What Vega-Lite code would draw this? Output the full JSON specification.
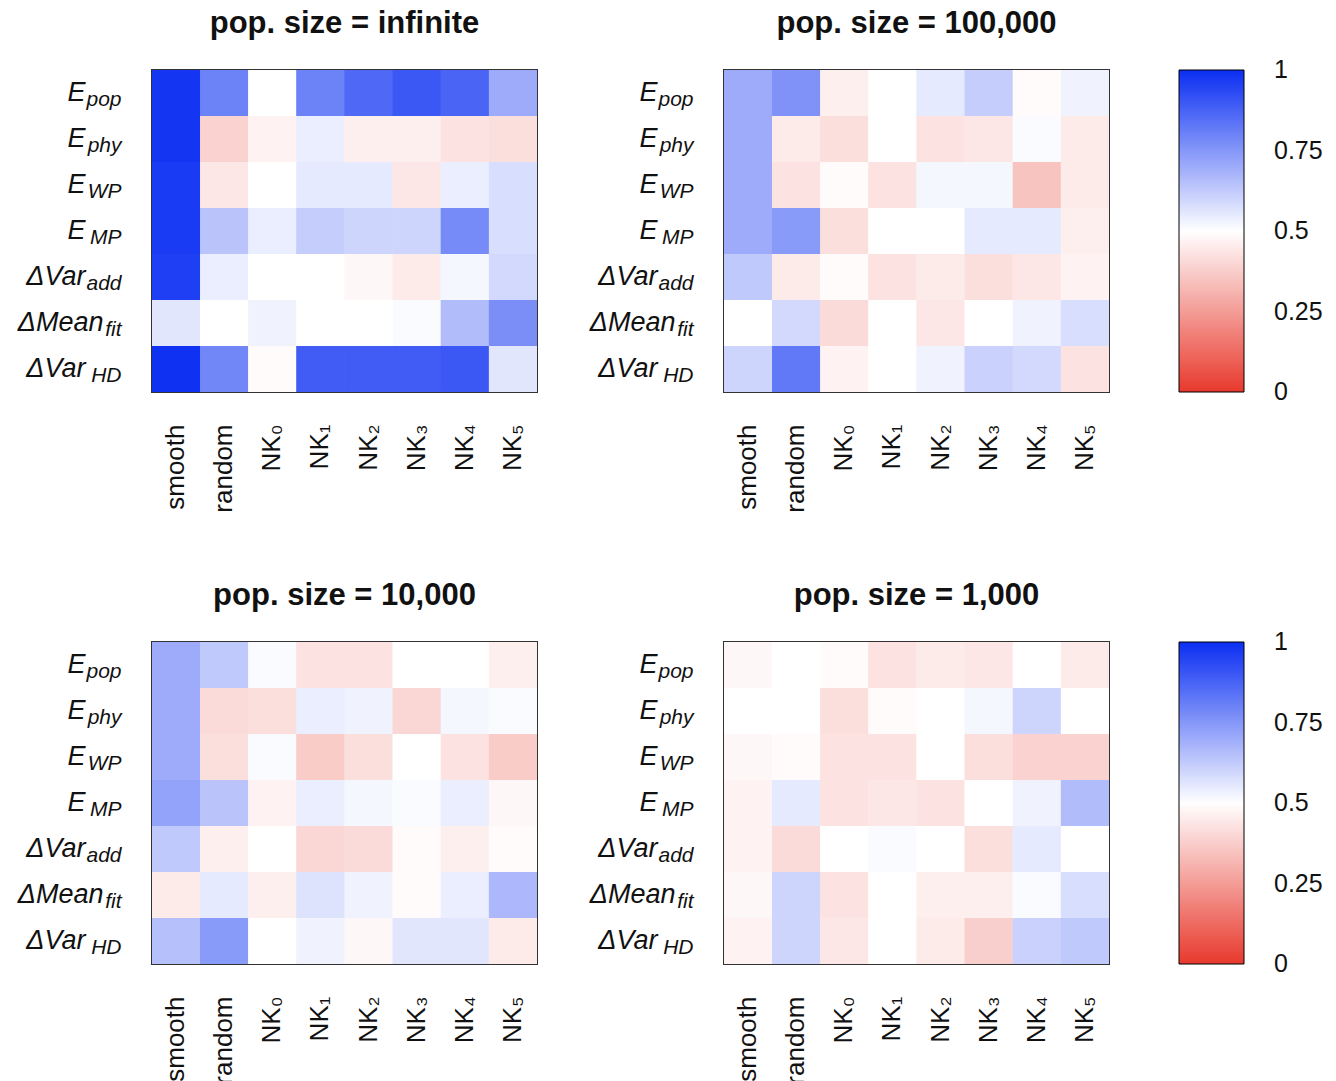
{
  "$schema": "https://vega.github.io/schema/vega-lite/v6.json",
  "padding": {"top": 7, "left": 16, "right": 4, "bottom": 4},
  "background": "white",
  "config": {
    "font": "Liberation Sans",
    "view": {"stroke": "#333333", "strokeWidth": 2},
    "axis": {"domain": false, "ticks": false, "grid": false, "title": null, "labelColor": "#111", "labelFont": "Liberation Sans"},
    "title": {"fontSize": 31, "fontWeight": "bold", "offset": 30, "color": "#111", "font": "Liberation Sans"},
    "legend": {"labelFont": "Liberation Sans", "labelColor": "#111"}
  },
  "datasets": {
    "cells": [
      {"p":"infinite","r":"E|pop","c":"smooth","v":0.98},{"p":"infinite","r":"E|pop","c":"random","v":0.8},{"p":"infinite","r":"E|pop","c":"NK₀","v":0.5},{"p":"infinite","r":"E|pop","c":"NK₁","v":0.8},{"p":"infinite","r":"E|pop","c":"NK₂","v":0.86},{"p":"infinite","r":"E|pop","c":"NK₃","v":0.9},{"p":"infinite","r":"E|pop","c":"NK₄","v":0.87},{"p":"infinite","r":"E|pop","c":"NK₅","v":0.7},
      {"p":"infinite","r":"E|phy","c":"smooth","v":0.98},{"p":"infinite","r":"E|phy","c":"random","v":0.39},{"p":"infinite","r":"E|phy","c":"NK₀","v":0.47},{"p":"infinite","r":"E|phy","c":"NK₁","v":0.54},{"p":"infinite","r":"E|phy","c":"NK₂","v":0.46},{"p":"infinite","r":"E|phy","c":"NK₃","v":0.46},{"p":"infinite","r":"E|phy","c":"NK₄","v":0.43},{"p":"infinite","r":"E|phy","c":"NK₅","v":0.42},
      {"p":"infinite","r":"E|WP","c":"smooth","v":0.97},{"p":"infinite","r":"E|WP","c":"random","v":0.44},{"p":"infinite","r":"E|WP","c":"NK₀","v":0.5},{"p":"infinite","r":"E|WP","c":"NK₁","v":0.55},{"p":"infinite","r":"E|WP","c":"NK₂","v":0.55},{"p":"infinite","r":"E|WP","c":"NK₃","v":0.44},{"p":"infinite","r":"E|WP","c":"NK₄","v":0.54},{"p":"infinite","r":"E|WP","c":"NK₅","v":0.58},
      {"p":"infinite","r":"E|MP","c":"smooth","v":0.97},{"p":"infinite","r":"E|MP","c":"random","v":0.64},{"p":"infinite","r":"E|MP","c":"NK₀","v":0.54},{"p":"infinite","r":"E|MP","c":"NK₁","v":0.62},{"p":"infinite","r":"E|MP","c":"NK₂","v":0.6},{"p":"infinite","r":"E|MP","c":"NK₃","v":0.6},{"p":"infinite","r":"E|MP","c":"NK₄","v":0.78},{"p":"infinite","r":"E|MP","c":"NK₅","v":0.58},
      {"p":"infinite","r":"ΔVar|add","c":"smooth","v":0.96},{"p":"infinite","r":"ΔVar|add","c":"random","v":0.54},{"p":"infinite","r":"ΔVar|add","c":"NK₀","v":0.5},{"p":"infinite","r":"ΔVar|add","c":"NK₁","v":0.5},{"p":"infinite","r":"ΔVar|add","c":"NK₂","v":0.48},{"p":"infinite","r":"ΔVar|add","c":"NK₃","v":0.45},{"p":"infinite","r":"ΔVar|add","c":"NK₄","v":0.52},{"p":"infinite","r":"ΔVar|add","c":"NK₅","v":0.59},
      {"p":"infinite","r":"ΔMean|fit","c":"smooth","v":0.56},{"p":"infinite","r":"ΔMean|fit","c":"random","v":0.5},{"p":"infinite","r":"ΔMean|fit","c":"NK₀","v":0.53},{"p":"infinite","r":"ΔMean|fit","c":"NK₁","v":0.5},{"p":"infinite","r":"ΔMean|fit","c":"NK₂","v":0.5},{"p":"infinite","r":"ΔMean|fit","c":"NK₃","v":0.51},{"p":"infinite","r":"ΔMean|fit","c":"NK₄","v":0.66},{"p":"infinite","r":"ΔMean|fit","c":"NK₅","v":0.77},
      {"p":"infinite","r":"ΔVar|HD","c":"smooth","v":0.99},{"p":"infinite","r":"ΔVar|HD","c":"random","v":0.79},{"p":"infinite","r":"ΔVar|HD","c":"NK₀","v":0.49},{"p":"infinite","r":"ΔVar|HD","c":"NK₁","v":0.89},{"p":"infinite","r":"ΔVar|HD","c":"NK₂","v":0.89},{"p":"infinite","r":"ΔVar|HD","c":"NK₃","v":0.89},{"p":"infinite","r":"ΔVar|HD","c":"NK₄","v":0.9},{"p":"infinite","r":"ΔVar|HD","c":"NK₅","v":0.56},

      {"p":"100,000","r":"E|pop","c":"smooth","v":0.7},{"p":"100,000","r":"E|pop","c":"random","v":0.76},{"p":"100,000","r":"E|pop","c":"NK₀","v":0.46},{"p":"100,000","r":"E|pop","c":"NK₁","v":0.5},{"p":"100,000","r":"E|pop","c":"NK₂","v":0.55},{"p":"100,000","r":"E|pop","c":"NK₃","v":0.62},{"p":"100,000","r":"E|pop","c":"NK₄","v":0.49},{"p":"100,000","r":"E|pop","c":"NK₅","v":0.53},
      {"p":"100,000","r":"E|phy","c":"smooth","v":0.7},{"p":"100,000","r":"E|phy","c":"random","v":0.45},{"p":"100,000","r":"E|phy","c":"NK₀","v":0.42},{"p":"100,000","r":"E|phy","c":"NK₁","v":0.5},{"p":"100,000","r":"E|phy","c":"NK₂","v":0.43},{"p":"100,000","r":"E|phy","c":"NK₃","v":0.44},{"p":"100,000","r":"E|phy","c":"NK₄","v":0.51},{"p":"100,000","r":"E|phy","c":"NK₅","v":0.45},
      {"p":"100,000","r":"E|WP","c":"smooth","v":0.7},{"p":"100,000","r":"E|WP","c":"random","v":0.43},{"p":"100,000","r":"E|WP","c":"NK₀","v":0.49},{"p":"100,000","r":"E|WP","c":"NK₁","v":0.43},{"p":"100,000","r":"E|WP","c":"NK₂","v":0.52},{"p":"100,000","r":"E|WP","c":"NK₃","v":0.52},{"p":"100,000","r":"E|WP","c":"NK₄","v":0.35},{"p":"100,000","r":"E|WP","c":"NK₅","v":0.45},
      {"p":"100,000","r":"E|MP","c":"smooth","v":0.7},{"p":"100,000","r":"E|MP","c":"random","v":0.74},{"p":"100,000","r":"E|MP","c":"NK₀","v":0.42},{"p":"100,000","r":"E|MP","c":"NK₁","v":0.5},{"p":"100,000","r":"E|MP","c":"NK₂","v":0.5},{"p":"100,000","r":"E|MP","c":"NK₃","v":0.55},{"p":"100,000","r":"E|MP","c":"NK₄","v":0.55},{"p":"100,000","r":"E|MP","c":"NK₅","v":0.46},
      {"p":"100,000","r":"ΔVar|add","c":"smooth","v":0.63},{"p":"100,000","r":"ΔVar|add","c":"random","v":0.45},{"p":"100,000","r":"ΔVar|add","c":"NK₀","v":0.49},{"p":"100,000","r":"ΔVar|add","c":"NK₁","v":0.43},{"p":"100,000","r":"ΔVar|add","c":"NK₂","v":0.45},{"p":"100,000","r":"ΔVar|add","c":"NK₃","v":0.42},{"p":"100,000","r":"ΔVar|add","c":"NK₄","v":0.44},{"p":"100,000","r":"ΔVar|add","c":"NK₅","v":0.47},
      {"p":"100,000","r":"ΔMean|fit","c":"smooth","v":0.5},{"p":"100,000","r":"ΔMean|fit","c":"random","v":0.59},{"p":"100,000","r":"ΔMean|fit","c":"NK₀","v":0.41},{"p":"100,000","r":"ΔMean|fit","c":"NK₁","v":0.5},{"p":"100,000","r":"ΔMean|fit","c":"NK₂","v":0.44},{"p":"100,000","r":"ΔMean|fit","c":"NK₃","v":0.5},{"p":"100,000","r":"ΔMean|fit","c":"NK₄","v":0.53},{"p":"100,000","r":"ΔMean|fit","c":"NK₅","v":0.58},
      {"p":"100,000","r":"ΔVar|HD","c":"smooth","v":0.6},{"p":"100,000","r":"ΔVar|HD","c":"random","v":0.82},{"p":"100,000","r":"ΔVar|HD","c":"NK₀","v":0.47},{"p":"100,000","r":"ΔVar|HD","c":"NK₁","v":0.5},{"p":"100,000","r":"ΔVar|HD","c":"NK₂","v":0.53},{"p":"100,000","r":"ΔVar|HD","c":"NK₃","v":0.61},{"p":"100,000","r":"ΔVar|HD","c":"NK₄","v":0.59},{"p":"100,000","r":"ΔVar|HD","c":"NK₅","v":0.43},

      {"p":"10,000","r":"E|pop","c":"smooth","v":0.7},{"p":"10,000","r":"E|pop","c":"random","v":0.63},{"p":"10,000","r":"E|pop","c":"NK₀","v":0.51},{"p":"10,000","r":"E|pop","c":"NK₁","v":0.43},{"p":"10,000","r":"E|pop","c":"NK₂","v":0.43},{"p":"10,000","r":"E|pop","c":"NK₃","v":0.5},{"p":"10,000","r":"E|pop","c":"NK₄","v":0.5},{"p":"10,000","r":"E|pop","c":"NK₅","v":0.46},
      {"p":"10,000","r":"E|phy","c":"smooth","v":0.7},{"p":"10,000","r":"E|phy","c":"random","v":0.41},{"p":"10,000","r":"E|phy","c":"NK₀","v":0.42},{"p":"10,000","r":"E|phy","c":"NK₁","v":0.54},{"p":"10,000","r":"E|phy","c":"NK₂","v":0.53},{"p":"10,000","r":"E|phy","c":"NK₃","v":0.4},{"p":"10,000","r":"E|phy","c":"NK₄","v":0.52},{"p":"10,000","r":"E|phy","c":"NK₅","v":0.51},
      {"p":"10,000","r":"E|WP","c":"smooth","v":0.7},{"p":"10,000","r":"E|WP","c":"random","v":0.42},{"p":"10,000","r":"E|WP","c":"NK₀","v":0.51},{"p":"10,000","r":"E|WP","c":"NK₁","v":0.37},{"p":"10,000","r":"E|WP","c":"NK₂","v":0.42},{"p":"10,000","r":"E|WP","c":"NK₃","v":0.5},{"p":"10,000","r":"E|WP","c":"NK₄","v":0.43},{"p":"10,000","r":"E|WP","c":"NK₅","v":0.37},
      {"p":"10,000","r":"E|MP","c":"smooth","v":0.72},{"p":"10,000","r":"E|MP","c":"random","v":0.64},{"p":"10,000","r":"E|MP","c":"NK₀","v":0.47},{"p":"10,000","r":"E|MP","c":"NK₁","v":0.54},{"p":"10,000","r":"E|MP","c":"NK₂","v":0.52},{"p":"10,000","r":"E|MP","c":"NK₃","v":0.51},{"p":"10,000","r":"E|MP","c":"NK₄","v":0.54},{"p":"10,000","r":"E|MP","c":"NK₅","v":0.48},
      {"p":"10,000","r":"ΔVar|add","c":"smooth","v":0.63},{"p":"10,000","r":"ΔVar|add","c":"random","v":0.46},{"p":"10,000","r":"ΔVar|add","c":"NK₀","v":0.5},{"p":"10,000","r":"ΔVar|add","c":"NK₁","v":0.4},{"p":"10,000","r":"ΔVar|add","c":"NK₂","v":0.41},{"p":"10,000","r":"ΔVar|add","c":"NK₃","v":0.49},{"p":"10,000","r":"ΔVar|add","c":"NK₄","v":0.46},{"p":"10,000","r":"ΔVar|add","c":"NK₅","v":0.49},
      {"p":"10,000","r":"ΔMean|fit","c":"smooth","v":0.45},{"p":"10,000","r":"ΔMean|fit","c":"random","v":0.55},{"p":"10,000","r":"ΔMean|fit","c":"NK₀","v":0.46},{"p":"10,000","r":"ΔMean|fit","c":"NK₁","v":0.57},{"p":"10,000","r":"ΔMean|fit","c":"NK₂","v":0.53},{"p":"10,000","r":"ΔMean|fit","c":"NK₃","v":0.49},{"p":"10,000","r":"ΔMean|fit","c":"NK₄","v":0.54},{"p":"10,000","r":"ΔMean|fit","c":"NK₅","v":0.67},
      {"p":"10,000","r":"ΔVar|HD","c":"smooth","v":0.65},{"p":"10,000","r":"ΔVar|HD","c":"random","v":0.74},{"p":"10,000","r":"ΔVar|HD","c":"NK₀","v":0.5},{"p":"10,000","r":"ΔVar|HD","c":"NK₁","v":0.53},{"p":"10,000","r":"ΔVar|HD","c":"NK₂","v":0.48},{"p":"10,000","r":"ΔVar|HD","c":"NK₃","v":0.56},{"p":"10,000","r":"ΔVar|HD","c":"NK₄","v":0.56},{"p":"10,000","r":"ΔVar|HD","c":"NK₅","v":0.45},

      {"p":"1,000","r":"E|pop","c":"smooth","v":0.48},{"p":"1,000","r":"E|pop","c":"random","v":0.5},{"p":"1,000","r":"E|pop","c":"NK₀","v":0.49},{"p":"1,000","r":"E|pop","c":"NK₁","v":0.43},{"p":"1,000","r":"E|pop","c":"NK₂","v":0.45},{"p":"1,000","r":"E|pop","c":"NK₃","v":0.44},{"p":"1,000","r":"E|pop","c":"NK₄","v":0.5},{"p":"1,000","r":"E|pop","c":"NK₅","v":0.45},
      {"p":"1,000","r":"E|phy","c":"smooth","v":0.5},{"p":"1,000","r":"E|phy","c":"random","v":0.5},{"p":"1,000","r":"E|phy","c":"NK₀","v":0.42},{"p":"1,000","r":"E|phy","c":"NK₁","v":0.49},{"p":"1,000","r":"E|phy","c":"NK₂","v":0.5},{"p":"1,000","r":"E|phy","c":"NK₃","v":0.52},{"p":"1,000","r":"E|phy","c":"NK₄","v":0.6},{"p":"1,000","r":"E|phy","c":"NK₅","v":0.5},
      {"p":"1,000","r":"E|WP","c":"smooth","v":0.48},{"p":"1,000","r":"E|WP","c":"random","v":0.49},{"p":"1,000","r":"E|WP","c":"NK₀","v":0.43},{"p":"1,000","r":"E|WP","c":"NK₁","v":0.43},{"p":"1,000","r":"E|WP","c":"NK₂","v":0.5},{"p":"1,000","r":"E|WP","c":"NK₃","v":0.42},{"p":"1,000","r":"E|WP","c":"NK₄","v":0.39},{"p":"1,000","r":"E|WP","c":"NK₅","v":0.39},
      {"p":"1,000","r":"E|MP","c":"smooth","v":0.47},{"p":"1,000","r":"E|MP","c":"random","v":0.55},{"p":"1,000","r":"E|MP","c":"NK₀","v":0.43},{"p":"1,000","r":"E|MP","c":"NK₁","v":0.44},{"p":"1,000","r":"E|MP","c":"NK₂","v":0.43},{"p":"1,000","r":"E|MP","c":"NK₃","v":0.5},{"p":"1,000","r":"E|MP","c":"NK₄","v":0.53},{"p":"1,000","r":"E|MP","c":"NK₅","v":0.66},
      {"p":"1,000","r":"ΔVar|add","c":"smooth","v":0.47},{"p":"1,000","r":"ΔVar|add","c":"random","v":0.41},{"p":"1,000","r":"ΔVar|add","c":"NK₀","v":0.5},{"p":"1,000","r":"ΔVar|add","c":"NK₁","v":0.51},{"p":"1,000","r":"ΔVar|add","c":"NK₂","v":0.5},{"p":"1,000","r":"ΔVar|add","c":"NK₃","v":0.42},{"p":"1,000","r":"ΔVar|add","c":"NK₄","v":0.55},{"p":"1,000","r":"ΔVar|add","c":"NK₅","v":0.5},
      {"p":"1,000","r":"ΔMean|fit","c":"smooth","v":0.48},{"p":"1,000","r":"ΔMean|fit","c":"random","v":0.6},{"p":"1,000","r":"ΔMean|fit","c":"NK₀","v":0.43},{"p":"1,000","r":"ΔMean|fit","c":"NK₁","v":0.5},{"p":"1,000","r":"ΔMean|fit","c":"NK₂","v":0.46},{"p":"1,000","r":"ΔMean|fit","c":"NK₃","v":0.46},{"p":"1,000","r":"ΔMean|fit","c":"NK₄","v":0.51},{"p":"1,000","r":"ΔMean|fit","c":"NK₅","v":0.58},
      {"p":"1,000","r":"ΔVar|HD","c":"smooth","v":0.47},{"p":"1,000","r":"ΔVar|HD","c":"random","v":0.6},{"p":"1,000","r":"ΔVar|HD","c":"NK₀","v":0.44},{"p":"1,000","r":"ΔVar|HD","c":"NK₁","v":0.5},{"p":"1,000","r":"ΔVar|HD","c":"NK₂","v":0.45},{"p":"1,000","r":"ΔVar|HD","c":"NK₃","v":0.38},{"p":"1,000","r":"ΔVar|HD","c":"NK₄","v":0.61},{"p":"1,000","r":"ΔVar|HD","c":"NK₅","v":0.63}
    ]
  },
  "data": {"name": "cells"},
  "resolve": {"scale": {"color": "independent"}, "legend": {"color": "independent"}},
  "spacing": 65,
  "vconcat": [
    {
      "spacing": 50,
      "hconcat": [
        {
          "title": "pop. size = infinite",
          "width": 385, "height": 322,
          "transform": [{"filter": "datum.p == 'infinite'"}],
          "encoding": {
            "x": {"field": "c", "type": "nominal", "sort": ["smooth","random","NK₀","NK₁","NK₂","NK₃","NK₄","NK₅"], "axis": {"labelAngle": -90, "labelFontSize": 26, "labelPadding": 32}},
            "color": {"field": "v", "type": "quantitative", "scale": {"domain": [0, 0.5, 1], "range": ["#e8392d", "#ffffff", "#0a2ef2"], "interpolate": "rgb"}, "legend": {"title": null, "values": [0, 0.25, 0.5, 0.75, 1], "format": ".2~f", "gradientLength": 322, "gradientThickness": 65, "labelFontSize": 25, "labelOffset": 30, "offset": 69, "gradientStrokeColor": "#000", "gradientStrokeWidth": 1, "encode": {"labels": {"update": {"baseline": {"value": "middle"}}}}}}
          },
          "layer": [
            {"mark": {"type": "rect"}, "encoding": {"y": {"field": "r", "type": "nominal", "sort": ["E|pop","E|phy","E|WP","E|MP","ΔVar|add","ΔMean|fit","ΔVar|HD"], "axis": {"orient": "left", "labelExpr": "split(datum.label,'|')[1] == 'fit' ? '' : split(datum.label,'|')[0]", "labelFontSize": 27, "labelFontStyle": "italic", "labelPadding": 67, "labelAlign": "right"}}}},
            {"mark": {"type": "rect"}, "encoding": {"y": {"field": "r", "type": "nominal", "sort": ["E|pop","E|phy","E|WP","E|MP","ΔVar|add","ΔMean|fit","ΔVar|HD"], "axis": {"orient": "left", "labelExpr": "split(datum.label,'|')[1] == 'fit' ? split(datum.label,'|')[0] : ''", "labelFontSize": 27, "labelFontStyle": "italic", "labelPadding": 49, "labelAlign": "right"}}}},
            {"mark": {"type": "rect"}, "encoding": {"y": {"field": "r", "type": "nominal", "sort": ["E|pop","E|phy","E|WP","E|MP","ΔVar|add","ΔMean|fit","ΔVar|HD"], "axis": {"orient": "left", "labelExpr": "split(datum.label,'|')[1]", "labelFontSize": 21, "labelFontStyle": "italic", "labelPadding": 31, "labelAlign": "right", "labelOffset": 7}}}}
          ],
          "resolve": {"scale": {"y": "independent"}, "axis": {"y": "independent"}}
        },
        {
          "title": "pop. size = 100,000",
          "width": 385, "height": 322,
          "transform": [{"filter": "datum.p == '100,000'"}],
          "encoding": {
            "x": {"field": "c", "type": "nominal", "sort": ["smooth","random","NK₀","NK₁","NK₂","NK₃","NK₄","NK₅"], "axis": {"labelAngle": -90, "labelFontSize": 26, "labelPadding": 32}},
            "color": {"field": "v", "type": "quantitative", "scale": {"domain": [0, 0.5, 1], "range": ["#e8392d", "#ffffff", "#0a2ef2"], "interpolate": "rgb"}, "legend": {"title": null, "values": [0, 0.25, 0.5, 0.75, 1], "format": ".2~f", "gradientLength": 322, "gradientThickness": 65, "labelFontSize": 25, "labelOffset": 30, "offset": 69, "gradientStrokeColor": "#000", "gradientStrokeWidth": 1, "encode": {"labels": {"update": {"baseline": {"value": "middle"}}}}}}
          },
          "layer": [
            {"mark": {"type": "rect"}, "encoding": {"y": {"field": "r", "type": "nominal", "sort": ["E|pop","E|phy","E|WP","E|MP","ΔVar|add","ΔMean|fit","ΔVar|HD"], "axis": {"orient": "left", "labelExpr": "split(datum.label,'|')[1] == 'fit' ? '' : split(datum.label,'|')[0]", "labelFontSize": 27, "labelFontStyle": "italic", "labelPadding": 67, "labelAlign": "right"}}}},
            {"mark": {"type": "rect"}, "encoding": {"y": {"field": "r", "type": "nominal", "sort": ["E|pop","E|phy","E|WP","E|MP","ΔVar|add","ΔMean|fit","ΔVar|HD"], "axis": {"orient": "left", "labelExpr": "split(datum.label,'|')[1] == 'fit' ? split(datum.label,'|')[0] : ''", "labelFontSize": 27, "labelFontStyle": "italic", "labelPadding": 49, "labelAlign": "right"}}}},
            {"mark": {"type": "rect"}, "encoding": {"y": {"field": "r", "type": "nominal", "sort": ["E|pop","E|phy","E|WP","E|MP","ΔVar|add","ΔMean|fit","ΔVar|HD"], "axis": {"orient": "left", "labelExpr": "split(datum.label,'|')[1]", "labelFontSize": 21, "labelFontStyle": "italic", "labelPadding": 31, "labelAlign": "right", "labelOffset": 7}}}}
          ],
          "resolve": {"scale": {"y": "independent"}, "axis": {"y": "independent"}}
        }
      ]
    },
    {
      "spacing": 50,
      "hconcat": [
        {
          "title": "pop. size = 10,000",
          "width": 385, "height": 322,
          "transform": [{"filter": "datum.p == '10,000'"}],
          "encoding": {
            "x": {"field": "c", "type": "nominal", "sort": ["smooth","random","NK₀","NK₁","NK₂","NK₃","NK₄","NK₅"], "axis": {"labelAngle": -90, "labelFontSize": 26, "labelPadding": 32}},
            "color": {"field": "v", "type": "quantitative", "scale": {"domain": [0, 0.5, 1], "range": ["#e8392d", "#ffffff", "#0a2ef2"], "interpolate": "rgb"}, "legend": {"title": null, "values": [0, 0.25, 0.5, 0.75, 1], "format": ".2~f", "gradientLength": 322, "gradientThickness": 65, "labelFontSize": 25, "labelOffset": 30, "offset": 69, "gradientStrokeColor": "#000", "gradientStrokeWidth": 1, "encode": {"labels": {"update": {"baseline": {"value": "middle"}}}}}}
          },
          "layer": [
            {"mark": {"type": "rect"}, "encoding": {"y": {"field": "r", "type": "nominal", "sort": ["E|pop","E|phy","E|WP","E|MP","ΔVar|add","ΔMean|fit","ΔVar|HD"], "axis": {"orient": "left", "labelExpr": "split(datum.label,'|')[1] == 'fit' ? '' : split(datum.label,'|')[0]", "labelFontSize": 27, "labelFontStyle": "italic", "labelPadding": 67, "labelAlign": "right"}}}},
            {"mark": {"type": "rect"}, "encoding": {"y": {"field": "r", "type": "nominal", "sort": ["E|pop","E|phy","E|WP","E|MP","ΔVar|add","ΔMean|fit","ΔVar|HD"], "axis": {"orient": "left", "labelExpr": "split(datum.label,'|')[1] == 'fit' ? split(datum.label,'|')[0] : ''", "labelFontSize": 27, "labelFontStyle": "italic", "labelPadding": 49, "labelAlign": "right"}}}},
            {"mark": {"type": "rect"}, "encoding": {"y": {"field": "r", "type": "nominal", "sort": ["E|pop","E|phy","E|WP","E|MP","ΔVar|add","ΔMean|fit","ΔVar|HD"], "axis": {"orient": "left", "labelExpr": "split(datum.label,'|')[1]", "labelFontSize": 21, "labelFontStyle": "italic", "labelPadding": 31, "labelAlign": "right", "labelOffset": 7}}}}
          ],
          "resolve": {"scale": {"y": "independent"}, "axis": {"y": "independent"}}
        },
        {
          "title": "pop. size = 1,000",
          "width": 385, "height": 322,
          "transform": [{"filter": "datum.p == '1,000'"}],
          "encoding": {
            "x": {"field": "c", "type": "nominal", "sort": ["smooth","random","NK₀","NK₁","NK₂","NK₃","NK₄","NK₅"], "axis": {"labelAngle": -90, "labelFontSize": 26, "labelPadding": 32}},
            "color": {"field": "v", "type": "quantitative", "scale": {"domain": [0, 0.5, 1], "range": ["#e8392d", "#ffffff", "#0a2ef2"], "interpolate": "rgb"}, "legend": {"title": null, "values": [0, 0.25, 0.5, 0.75, 1], "format": ".2~f", "gradientLength": 322, "gradientThickness": 65, "labelFontSize": 25, "labelOffset": 30, "offset": 69, "gradientStrokeColor": "#000", "gradientStrokeWidth": 1, "encode": {"labels": {"update": {"baseline": {"value": "middle"}}}}}}
          },
          "layer": [
            {"mark": {"type": "rect"}, "encoding": {"y": {"field": "r", "type": "nominal", "sort": ["E|pop","E|phy","E|WP","E|MP","ΔVar|add","ΔMean|fit","ΔVar|HD"], "axis": {"orient": "left", "labelExpr": "split(datum.label,'|')[1] == 'fit' ? '' : split(datum.label,'|')[0]", "labelFontSize": 27, "labelFontStyle": "italic", "labelPadding": 67, "labelAlign": "right"}}}},
            {"mark": {"type": "rect"}, "encoding": {"y": {"field": "r", "type": "nominal", "sort": ["E|pop","E|phy","E|WP","E|MP","ΔVar|add","ΔMean|fit","ΔVar|HD"], "axis": {"orient": "left", "labelExpr": "split(datum.label,'|')[1] == 'fit' ? split(datum.label,'|')[0] : ''", "labelFontSize": 27, "labelFontStyle": "italic", "labelPadding": 49, "labelAlign": "right"}}}},
            {"mark": {"type": "rect"}, "encoding": {"y": {"field": "r", "type": "nominal", "sort": ["E|pop","E|phy","E|WP","E|MP","ΔVar|add","ΔMean|fit","ΔVar|HD"], "axis": {"orient": "left", "labelExpr": "split(datum.label,'|')[1]", "labelFontSize": 21, "labelFontStyle": "italic", "labelPadding": 31, "labelAlign": "right", "labelOffset": 7}}}}
          ],
          "resolve": {"scale": {"y": "independent"}, "axis": {"y": "independent"}}
        }
      ]
    }
  ]
}
